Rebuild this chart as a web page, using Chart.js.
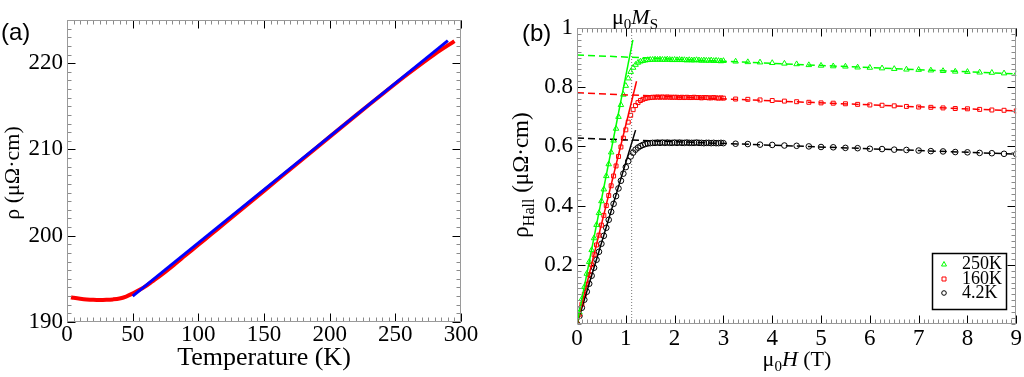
<!DOCTYPE html>
<html><head><meta charset="utf-8">
<script src="https://cdn.jsdelivr.net/npm/chart.js@4"></script>
<style>
html,body{margin:0;padding:0;background:#fff;width:1024px;height:377px;overflow:hidden}
.wrap{position:absolute;top:0;width:512px;height:377px}
</style></head><body>
<div class="wrap" style="left:0"><canvas id="ca" width="512" height="377"></canvas></div>
<div class="wrap" style="left:512px"><canvas id="cb" width="512" height="377"></canvas></div>
<script>
// ---------- Panel (a) data ----------
const tempA = [3,5,10,15,20,25,30,35,40,45,50,55,60,65,70,80,90,100,110,120,140,160,180,200,220,240,260,280,295];
const rhoMeasured = [192.85,192.8,192.7,192.62,192.57,192.55,192.57,192.62,192.72,192.95,193.3,193.7,194.15,194.7,195.25,196.45,197.7,198.95,200.2,201.45,203.95,206.45,208.95,211.45,213.95,216.4,218.8,221.05,222.55];
const tempFit = [50, 290];
const rhoFit = [193.0, 222.6];
const xTicksA = [0,50,100,150,200,250,300];
const yTicksA = [190,200,210,220];

// ---------- Panel (b) data ----------
const fieldB = [0,0.05,0.1,0.15,0.2,0.25,0.3,0.35,0.4,0.45,0.5,0.55,0.6,0.65,0.7,0.75,0.8,0.85,0.9,0.95,
1.0,1.05,1.1,1.15,1.2,1.25,1.3,1.35,1.4,1.45,1.5,1.55,1.6,1.65,1.7,1.75,1.8,1.85,1.9,1.95,
2.0,2.05,2.1,2.15,2.2,2.25,2.3,2.35,2.4,2.45,2.5,2.55,2.6,2.65,2.7,2.75,2.8,2.85,2.9,2.95,3.0,
3.25,3.5,3.75,4.0,4.25,4.5,4.75,5.0,5.25,5.5,5.75,6.0,6.25,6.5,6.75,7.0,7.25,7.5,7.75,8.0,8.25,8.5,8.75,9.0];
const hall250 = [0,0.04,0.085,0.125,0.17,0.21,0.25,0.29,0.335,0.375,0.415,0.455,0.5,0.54,0.58,0.62,0.66,0.70,0.74,0.775,
0.805,0.83,0.852,0.866,0.876,0.883,0.887,0.889,0.891,0.892,
0.893,0.893,0.894,0.893,0.894,0.893,0.893,0.894,0.893,0.892,
0.893,0.892,0.893,0.892,0.892,0.891,0.892,0.891,0.891,0.892,
0.891,0.890,0.891,0.890,0.890,0.891,0.889,0.890,0.889,0.888,0.889,
0.887,0.885,0.884,0.882,0.880,0.878,0.875,0.873,0.871,0.870,0.867,0.866,0.864,0.862,0.860,0.859,0.857,0.855,0.853,0.852,0.850,0.849,0.847,0.845];
const hall160 = [0,0.033,0.067,0.1,0.134,0.167,0.2,0.234,0.267,0.3,0.334,0.367,0.4,0.434,0.467,0.5,0.534,0.566,0.598,0.628,
0.656,0.682,0.705,0.724,0.738,0.748,0.755,0.759,0.762,0.764,
0.765,0.766,0.766,0.767,0.766,0.767,0.766,0.767,0.766,0.766,
0.766,0.766,0.765,0.766,0.765,0.766,0.765,0.765,0.766,0.765,
0.765,0.764,0.765,0.765,0.764,0.764,0.765,0.764,0.763,0.764,0.763,
0.760,0.759,0.757,0.755,0.753,0.751,0.749,0.747,0.746,0.744,0.742,0.740,0.739,0.737,0.735,0.733,0.732,0.730,0.728,0.727,0.725,0.723,0.722,0.720];
const hall42 = [0,0.027,0.055,0.082,0.109,0.136,0.163,0.19,0.217,0.244,0.271,0.298,0.325,0.352,0.379,0.406,0.432,0.458,0.484,0.508,
0.53,0.55,0.566,0.579,0.589,0.596,0.601,0.605,0.608,0.61,
0.611,0.612,0.612,0.613,0.612,0.613,0.612,0.613,0.612,0.612,
0.613,0.612,0.613,0.612,0.612,0.613,0.612,0.612,0.612,0.613,
0.612,0.612,0.611,0.612,0.612,0.611,0.612,0.611,0.611,0.612,0.611,
0.609,0.608,0.606,0.605,0.603,0.602,0.600,0.598,0.597,0.595,0.594,0.592,0.591,0.589,0.588,0.586,0.584,0.583,0.581,0.580,0.578,0.577,0.575,0.574];
const slope250X = [0,1.145], slope250Y = [0,0.96];
const slope160X = [0,1.22],  slope160Y = [0,0.82];
const slope42X  = [0,1.2],   slope42Y  = [0,0.655];
const satX = [0,9];
const sat250Y = [0.909,0.845];
const sat160Y = [0.781,0.720];
const sat42Y  = [0.628,0.574];
const msX = [1.12,1.12], msY = [0,1];
const xTicksB = [0,1,2,3,4,5,6,7,8,9];
const yTicksB = [0.2,0.4,0.6,0.8,1];
const legendLabels = ['250K','160K','4.2K'];

const pts = (xs, ys) => xs.map((x,i)=>({x:x, y:ys[i]}));
const SERIF = '"Liberation Serif","Times New Roman",serif';
const SANS = '"Liberation Sans",Arial,sans-serif';

function richWidth(ctx, parts){
  let w=0; for(const p of parts){ ctx.font=(p.italic?'italic ':'')+p.size+'px '+SERIF; w+=ctx.measureText(p.t).width; } return w;
}
function drawRich(ctx, parts, cx, baseY){
  const w = richWidth(ctx, parts); let x = cx - w/2;
  ctx.textAlign='left'; ctx.textBaseline='alphabetic'; ctx.fillStyle='#000';
  for(const p of parts){ ctx.font=(p.italic?'italic ':'')+p.size+'px '+SERIF; ctx.fillText(p.t, x, baseY+(p.dy||0)); x+=ctx.measureText(p.t).width; }
}

function decorPlugin(cfg){
  return { id:'decor', afterDraw(chart){
    const ctx=chart.ctx, a=chart.chartArea, xs=chart.scales.x, ys=chart.scales.y;
    ctx.save();
    const L=Math.round(a.left)+0.5, R=Math.round(a.right)-0.5, T=Math.round(a.top)+0.5, B=Math.round(a.bottom)-0.5;
    ctx.lineWidth=1;
    ctx.strokeStyle='#8a8a8a';
    ctx.beginPath();
    for(let v=xs.min; v<=xs.max+1e-9; v+=cfg.xMinor){ const p=Math.round(xs.getPixelForValue(v))+0.5; ctx.moveTo(p,B); ctx.lineTo(p,B-cfg.minLen); ctx.moveTo(p,T); ctx.lineTo(p,T+cfg.minLen); }
    for(let v=ys.min; v<=ys.max+1e-9; v+=cfg.yMinor){ const p=Math.round(ys.getPixelForValue(v))+0.5; ctx.moveTo(L,p); ctx.lineTo(L+cfg.minLen,p); ctx.moveTo(R,p); ctx.lineTo(R-cfg.minLen,p); }
    ctx.stroke();
    ctx.strokeStyle='#000';
    ctx.beginPath();
    for(const v of cfg.xMajor){ const p=Math.round(xs.getPixelForValue(v))+0.5; ctx.moveTo(p,B); ctx.lineTo(p,B-cfg.majLen); ctx.moveTo(p,T); ctx.lineTo(p,T+cfg.majLen); }
    for(const v of cfg.yMajor){ const p=Math.round(ys.getPixelForValue(v))+0.5; ctx.moveTo(L,p); ctx.lineTo(L+cfg.majLen,p); ctx.moveTo(R,p); ctx.lineTo(R-cfg.majLen,p); }
    ctx.stroke();
    ctx.strokeStyle='#9a9a9a';
    ctx.strokeRect(L,T,R-L,B-T);
    cfg.text(ctx, chart);
    ctx.restore();
  }};
}

function scaleOpts(min,max,ticksArr,axis,size,fitSize,pad){
  return {
    type:'linear', min:min, max:max,
    grid:{display:false, drawTicks:false}, border:{display:false},
    afterBuildTicks:(s)=>{ s.ticks = ticksArr.map(v=>({value:v})); },
    afterFit:(s)=>{ if(axis==='x') s.height=fitSize; else s.width=fitSize; },
    ticks:{ autoSkip:false, maxRotation:0, padding:pad, color:'#000',
      font:{family:SERIF, size:size, lineHeight:1.1},
      callback:(v)=>String(Math.round(v*100)/100) }
  };
}

// ---------- Chart (a) ----------
new Chart(document.getElementById('ca'), {
  type:'scatter',
  data:{ datasets:[
    { label:'fit', data:pts(tempFit, rhoFit), showLine:true, borderColor:'#0000ff', borderWidth:3, pointRadius:0 },
    { label:'data', data:pts(tempA, rhoMeasured), showLine:true, borderColor:'#ff0000', borderWidth:4, pointRadius:0, tension:0.3 }
  ]},
  options:{
    responsive:false, animation:false,
    layout:{ padding:{ left:0, right:51, top:20, bottom:0 } },
    plugins:{ legend:{display:false}, tooltip:{enabled:false} },
    scales:{
      x: scaleOpts(0,300,xTicksA,'x',23,55,0),
      y: scaleOpts(190,225,yTicksA,'y',23,67,4)
    }
  },
  plugins:[ decorPlugin({ xMinor:5, yMinor:1, minLen:4, majLen:8, xMajor:xTicksA, yMajor:yTicksA,
    text:(ctx)=>{
      ctx.fillStyle='#000'; ctx.font='24px '+SANS; ctx.textAlign='left'; ctx.textBaseline='middle';
      ctx.fillText('(a)', 1, 33);
      ctx.font='26px '+SERIF; ctx.textAlign='center'; ctx.textBaseline='alphabetic';
      ctx.fillText('Temperature (K)', 264, 365);
      ctx.save(); ctx.translate(19, 173); ctx.rotate(-Math.PI/2);
      ctx.font='22px '+SERIF; ctx.fillText('ρ (μΩ·cm)', 0, 0); ctx.restore();
    } }) ]
});

// ---------- Chart (b) ----------
const mk = (label, ys, color, style, r) => ({ label:label, data:pts(fieldB, ys), showLine:false, pointStyle:style, pointRadius:r, borderColor:color, backgroundColor:'rgba(0,0,0,0)', pointBorderWidth:1 });
const fitLine = (xs, ys, color, dash, w) => ({ label:'', data:pts(xs, ys), showLine:true, borderColor:color, borderWidth:w, borderDash:dash, pointRadius:0 });
const colors = ['#00ff00','#ff0000','#000000'];
const styles = ['triangle','rect','circle'];

new Chart(document.getElementById('cb'), {
  type:'scatter',
  data:{ datasets:[
    fitLine(slope250X, slope250Y, colors[0], [], 1.5),
    fitLine(slope160X, slope160Y, colors[1], [], 1.5),
    fitLine(slope42X,  slope42Y,  colors[2], [], 1.5),
    fitLine(satX, sat250Y, colors[0], [7,4], 1.5),
    fitLine(satX, sat160Y, colors[1], [7,4], 1.5),
    fitLine(satX, sat42Y,  colors[2], [7,4], 1.5),
    fitLine(msX, msY, '#777777', [1,2], 1),
    mk(legendLabels[0], hall250, colors[0], styles[0], 3.2),
    mk(legendLabels[1], hall160, colors[1], styles[1], 2.8),
    mk(legendLabels[2], hall42,  colors[2], styles[2], 2.8)
  ]},
  options:{
    responsive:false, animation:false,
    layout:{ padding:{ left:0, right:7, top:28, bottom:0 } },
    plugins:{ legend:{display:false}, tooltip:{enabled:false} },
    scales:{
      x: scaleOpts(0,9,xTicksB,'x',23,53,2),
      y: scaleOpts(0,1,yTicksB,'y',23,65,4)
    }
  },
  plugins:[ decorPlugin({ xMinor:0.1, yMinor:0.02, minLen:4, majLen:8, xMajor:xTicksB, yMajor:yTicksB,
    text:(ctx, chart)=>{
      ctx.fillStyle='#000'; ctx.font='24px '+SANS; ctx.textAlign='left'; ctx.textBaseline='middle';
      ctx.fillText('(b)', 10, 34);
      drawRich(ctx, [{t:'μ',size:22},{t:'0',size:15,dy:5},{t:'M',size:22,italic:true},{t:'S',size:15,dy:5}], 123, 24);
      drawRich(ctx, [{t:'μ',size:22},{t:'0',size:15,dy:5},{t:'H',size:22,italic:true},{t:' (T)',size:22}], 285, 366);
      ctx.save(); ctx.translate(16, 175); ctx.rotate(-Math.PI/2);
      drawRich(ctx, [{t:'ρ',size:23},{t:'Hall',size:16,dy:6},{t:' (μΩ·cm)',size:23}], 0, 0);
      ctx.restore();
      // legend
      const bx=420, by=253, bw=74, bh=56;
      ctx.fillStyle='#fff'; ctx.fillRect(bx,by,bw,bh);
      ctx.strokeStyle='#000'; ctx.lineWidth=1.5; ctx.strokeRect(bx+0.5,by+0.5,bw,bh);
      const ly=[264,279,293];
      legendLabels.forEach((lab,i)=>{
        ctx.strokeStyle=colors[i]; ctx.lineWidth=1;
        ctx.beginPath();
        if(styles[i]==='triangle'){ ctx.moveTo(432,ly[i]-2.5); ctx.lineTo(434.5,ly[i]+2); ctx.lineTo(429.5,ly[i]+2); ctx.closePath(); }
        else if(styles[i]==='rect'){ ctx.rect(430,ly[i]-2,4,4); }
        else { ctx.arc(432,ly[i],2.3,0,Math.PI*2); }
        ctx.stroke();
        ctx.fillStyle='#000'; ctx.font='18px '+SERIF; ctx.textAlign='left'; ctx.textBaseline='middle';
        ctx.fillText(lab, 450, ly[i]);
      });
    } }) ]
});
</script>
</body></html>
